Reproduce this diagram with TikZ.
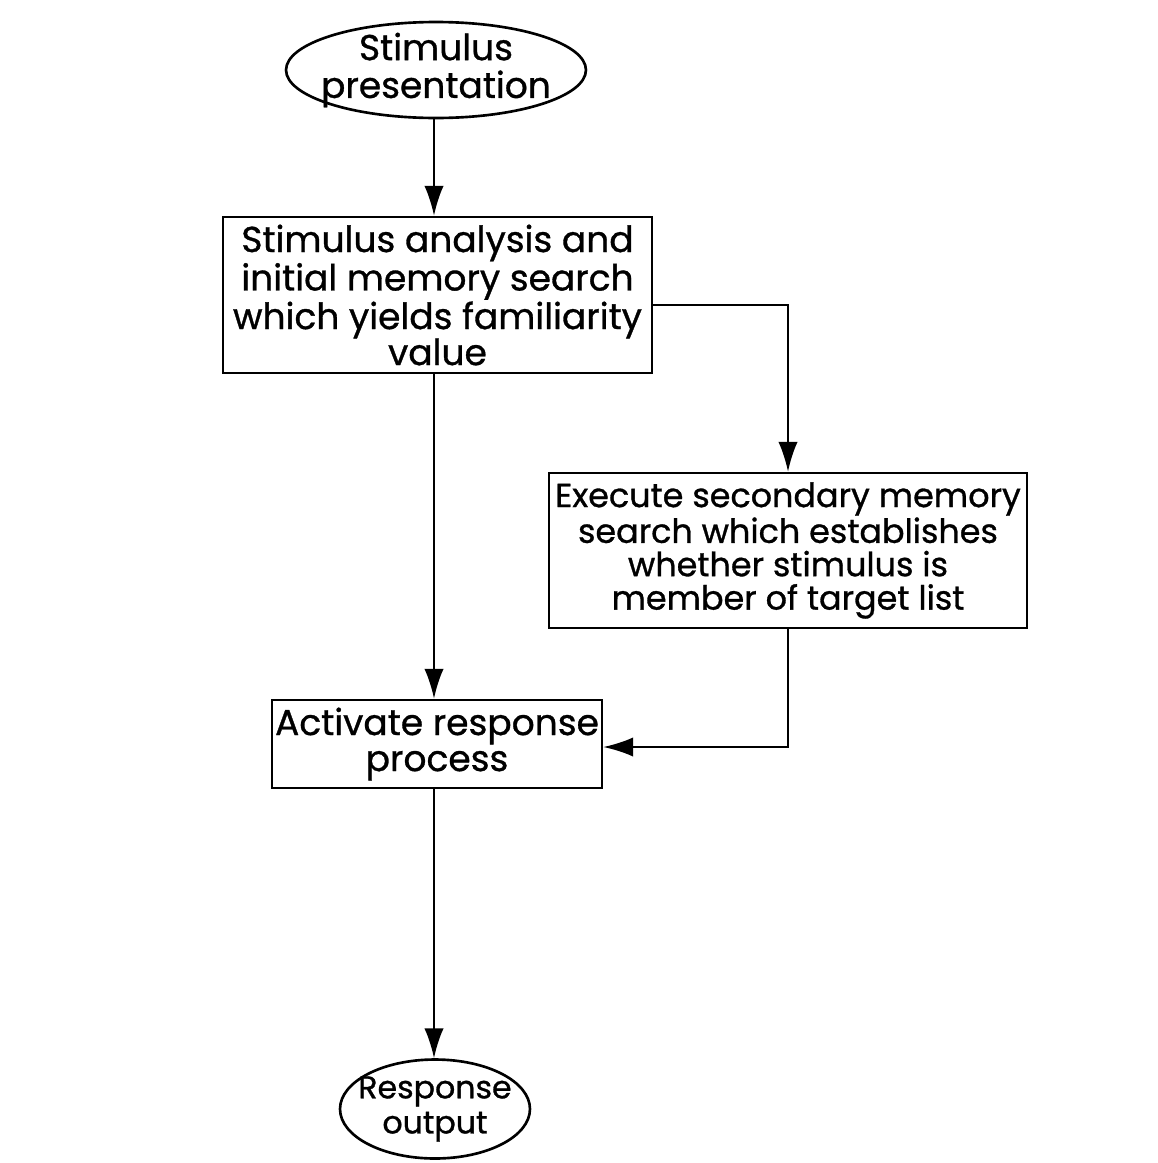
\documentclass[tikz,border=0pt]{standalone}
\usepackage{fontspec}
\setmainfont[FakeBold=0.9]{Poppins}
\usetikzlibrary{shapes.geometric,arrows.meta}
\begin{document}
\begin{tikzpicture}[x=0.02cm,y=-0.02cm,
  every node/.style={inner sep=0pt, align=center},
  procbox/.style={draw, line width=1.5pt, rectangle},
  term/.style={draw, line width=1.5pt, ellipse},
  conn/.style={line width=1.2pt, -{Latex[length=17pt,width=11pt]}}]
\useasboundingbox (0,0) rectangle (1157,1163);
% start terminal
\node[term, minimum width=6.0cm, minimum height=1.92cm] (start) at (436,70) {};
\node[font=\fontsize{20.5}{21.5}\selectfont] (startlbl) at (start.center) {Stimulus\\presentation};
% process boxes
\node[procbox, font=\fontsize{20.5}{20.5}\selectfont, minimum width=8.58cm, minimum height=3.12cm] (analysis) at (437.5,295) {Stimulus analysis and\\initial memory search\\which yields familiarity\\value};
\node[procbox, font=\fontsize{19}{19}\selectfont, minimum width=9.56cm, minimum height=3.1cm] (secondary) at (788,550.5) {Execute secondary memory\\search which establishes\\whether stimulus is\\member of target list};
\node[procbox, font=\fontsize{20.5}{20.5}\selectfont, minimum width=6.6cm, minimum height=1.76cm] (activate) at (437,744) {Activate response\\process};
% end terminal
\node[term, minimum width=3.8cm, minimum height=1.98cm] (output) at (435,1109) {};
\node[font=\fontsize{18}{20}\selectfont] (outputlbl) at (output.center) {Response\\output};
\coordinate (c1) at (788,305);
\coordinate (c2) at (788,747);
\draw[conn] (start.south -| 434,0) -- (analysis.north -| 434,0);
\draw[conn] (analysis.south -| 434,0) -- (activate.north -| 434,0);
\draw[conn] (activate.south -| 434,0) -- (output.north -| 434,0);
\draw[conn] (analysis.east |- c1) -- (c1) -- (secondary.north);
\draw[conn] (secondary.south) -- (c2) -- (activate.east |- c2);
\end{tikzpicture}
\end{document}
